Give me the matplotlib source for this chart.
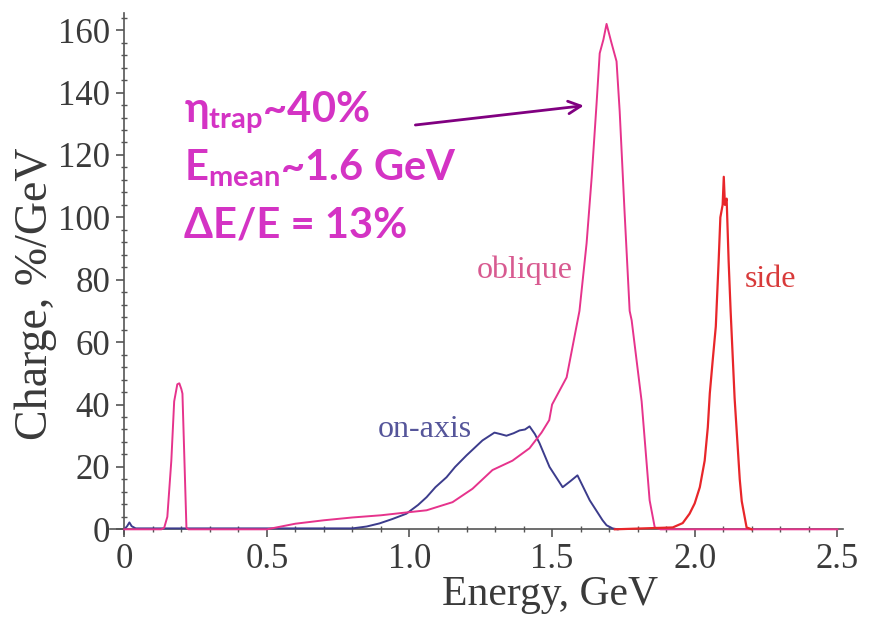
import matplotlib
matplotlib.use("Agg")
import matplotlib.pyplot as plt
from matplotlib.ticker import MultipleLocator

# ---------------- data ----------------
oblique_E = [0.0, 0.13, 0.140, 0.151, 0.165, 0.175, 0.186, 0.193, 0.200, 0.204, 0.211, 0.218, 0.225,
             0.50, 0.60, 0.70, 0.80, 0.90, 0.989, 1.06, 1.151, 1.221, 1.291, 1.361, 1.421, 1.463,
             1.49, 1.50, 1.551, 1.596, 1.621, 1.639, 1.656, 1.667, 1.680, 1.691, 1.708, 1.726, 1.737,
             1.754, 1.772, 1.779, 1.814, 1.842, 1.86, 1.88, 2.50]
oblique_Q = [0.0, 0.0, 0.5, 4.0, 22.0, 41.0, 46.5, 46.8, 45.0, 43.5, 22.0, 0.5, 0.0,
             0.0, 1.8, 2.9, 3.8, 4.5, 5.4, 6.1, 8.7, 13.0, 19.0, 22.0, 26.0, 31.0,
             35.0, 40.0, 48.7, 70.0, 91.7, 113.0, 136.5, 152.6, 157.0, 162.0, 156.0, 150.0, 134.0,
             102.0, 70.0, 67.0, 41.0, 9.3, 0.6, 0.0, 0.0]

onaxis_E = [0.0, 0.010, 0.018, 0.026, 0.040, 0.80, 0.85, 0.895, 0.94, 0.989, 1.03, 1.06, 1.091,
            1.13, 1.16, 1.20, 1.256, 1.298, 1.32, 1.34, 1.365, 1.386, 1.405, 1.421, 1.44, 1.456,
            1.491, 1.537, 1.565, 1.589, 1.632, 1.677, 1.691, 1.712, 1.73]
onaxis_Q = [0.0, 1.0, 2.2, 1.0, 0.3, 0.3, 0.9, 1.9, 3.3, 5.0, 7.8, 10.3, 13.5,
            16.7, 20.0, 23.7, 28.5, 31.0, 30.5, 30.0, 30.8, 31.7, 32.0, 33.0, 30.5, 27.6,
            20.0, 13.5, 15.5, 17.3, 9.3, 2.9, 1.3, 0.3, 0.0]

side_E = [1.72, 1.923, 1.958, 1.982, 2.000, 2.018, 2.035, 2.046, 2.053, 2.063, 2.074, 2.084,
          2.090, 2.098, 2.102, 2.106, 2.112, 2.119, 2.126, 2.140, 2.158, 2.165, 2.182, 2.20]
side_Q = [0.0, 0.6, 2.0, 5.0, 8.3, 13.5, 22.0, 32.7, 43.6, 54.0, 65.0, 86.0,
          100.0, 104.0, 113.0, 104.0, 106.0, 86.0, 70.0, 42.0, 16.0, 9.0, 0.6, 0.0]

x_ticks = [0, 0.5, 1.0, 1.5, 2.0, 2.5]
x_tick_labels = ["0", "0.5", "1.0", "1.5", "2.0", "2.5"]
y_ticks = [0, 20, 40, 60, 80, 100, 120, 140, 160]

annotation_lines = [r"$\eta_{\mathrm{trap}}$~40%", r"$\mathrm{E_{mean}}$~1.6 GeV", "ΔE/E = 13%"]

# ---------------- style ----------------
plt.rcParams["mathtext.fontset"] = "custom"
plt.rcParams["mathtext.rm"] = "Lato:bold"
plt.rcParams["mathtext.it"] = "Lato:bold"
plt.rcParams["mathtext.bf"] = "Lato:bold"

serif = ["Liberation Serif", "DejaVu Serif"]
axis_col = "#555555"
text_col = "#3a3a3a"
c_obl = "#E6338C"
c_side = "#E8262A"
c_on = "#3C3C8C"

fig = plt.figure(figsize=(8.84, 6.2), dpi=100)
ax = fig.add_axes([110 / 884, 1 - 534 / 620, (843 - 110) / 884, (534 - 13) / 620])

ax.plot(onaxis_E, onaxis_Q, color=c_on, lw=1.4, zorder=3)
ax.plot(oblique_E, oblique_Q, color=c_obl, lw=1.4, zorder=4)
ax.plot(side_E, side_Q, color=c_side, lw=1.6, zorder=5)

ax.set_xlim(-0.05, 2.52)
ax.set_ylim(-1.5, 165.5)
for s in ["top", "right"]:
    ax.spines[s].set_visible(False)
ax.spines["left"].set_position(("data", 0))
ax.spines["bottom"].set_position(("data", 0))
for s in ["left", "bottom"]:
    ax.spines[s].set_color(axis_col)
    ax.spines[s].set_linewidth(1.2)

ax.set_xticks(x_ticks)
ax.set_xticklabels(x_tick_labels)
ax.set_yticks(y_ticks)
ax.xaxis.set_minor_locator(MultipleLocator(0.1))
ax.yaxis.set_minor_locator(MultipleLocator(4))
ax.tick_params(which="major", direction="out", length=6, width=1.2, color=axis_col,
               labelsize=25, labelcolor=text_col, pad=4)
ax.tick_params(which="minor", direction="inout", length=4, width=1.0, color=axis_col)
for lab in ax.get_xticklabels() + ax.get_yticklabels():
    lab.set_fontfamily(serif)

ax.set_xlabel("Energy, GeV", fontsize=30, color=text_col, family=serif)
ax.set_ylabel("Charge, %/GeV", fontsize=33, color=text_col, family=serif)
ax.xaxis.set_label_coords((550 - 110) / 733, (534 - 575) / 521)
ax.yaxis.set_label_coords((57 - 110) / 733, (534 - 294) / 521)

# curve labels
ax.text(1.405, 80.4, "oblique", color="#D85A90", fontsize=23, family=serif, ha="center", va="baseline")
ax.text(1.053, 29.5, "on-axis", color="#55559A", fontsize=23, family=serif, ha="center", va="baseline")
ax.text(2.267, 77.6, "side", color="#D83A3A", fontsize=23, family=serif, ha="center", va="baseline")

# annotation
ann_col = "#D433C4"
for txt, yb in zip(annotation_lines, [130.4, 111.9, 93.6]):
    ax.text(0.2105, yb, txt, color=ann_col, fontsize=30, fontweight="bold",
            family=["Lato", "DejaVu Sans"], ha="left", va="baseline")

ax.annotate("", xy=(1.621, 135.9), xytext=(1.011, 129.5),
            arrowprops=dict(arrowstyle="->,head_length=0.9,head_width=0.45",
                            color="#800080", lw=2))

fig.savefig("out.png", dpi=100)
